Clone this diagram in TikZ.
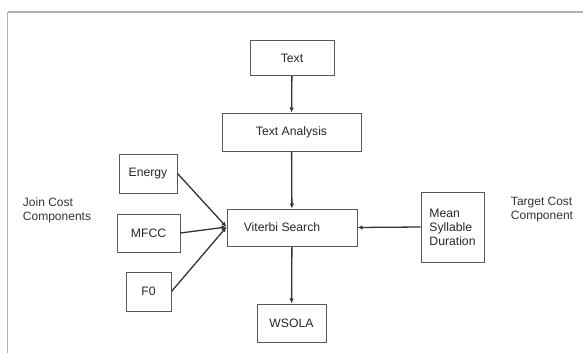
\documentclass[tikz,border=0pt]{standalone}
\usepackage{fontspec}
\setmainfont{Liberation Sans}
\usetikzlibrary{arrows.meta}
\begin{document}
\begin{tikzpicture}[x=1pt,y=-1pt,
  box/.style={draw=black!65,line width=1pt,inner sep=0pt,font=\fontsize{12.2}{14}\selectfont,text=black!85},
  lbl/.style={font=\fontsize{12}{14}\selectfont,text=black!80,align=left},
  conn/.style={draw=black!80,line width=1.3pt,-{Latex[length=5pt,width=4.5pt]}}]
\useasboundingbox (0,0) rectangle (583,353);
\draw[black!30,line width=1.2pt] (7.5,12) -- (590,12) (7.5,12) -- (7.5,360);
\node[box,minimum width=84pt,minimum height=34pt] (text) at (292,58) {Text};
\node[box,minimum width=139pt,minimum height=38pt] (ta) at (291.5,132) {Text Analysis};
\node[box,minimum width=130pt,minimum height=37pt] (vit) at (292,227.5) {\hspace*{-20pt}Viterbi Search};
\node[box,minimum width=69pt,minimum height=38pt] (ws) at (291.5,323) {WSOLA};
\node[box,minimum width=58pt,minimum height=39pt] (en) at (148,173.5) {Energy};
\node[box,minimum width=63pt,minimum height=38pt] (mf) at (148.5,233) {MFCC};
\node[box,minimum width=45pt,minimum height=39pt] (f0) at (148.5,291.5) {F0};
\node[box,minimum width=63pt,minimum height=70pt,align=left] (msd) at (452.5,227) {Mean\\Syllable\\Duration};
\node[lbl] (jc) at (57,210) {Join Cost\\Components};
\node[lbl] (tc) at (542,210) {Target Cost\\Component};
\coordinate (vin) at ([yshift=0.5pt]vit.west);
\draw[conn] (text) -- (ta);
\draw[conn] (ta) -- (vit);
\draw[conn] (vit) -- (ws);
\draw[conn] (msd.west) -- (vit.east);
\draw[conn] (en.east) -- (vin);
\draw[conn] (mf.east) -- (vin);
\draw[conn] (f0.east) -- (vin);
\end{tikzpicture}
\end{document}
